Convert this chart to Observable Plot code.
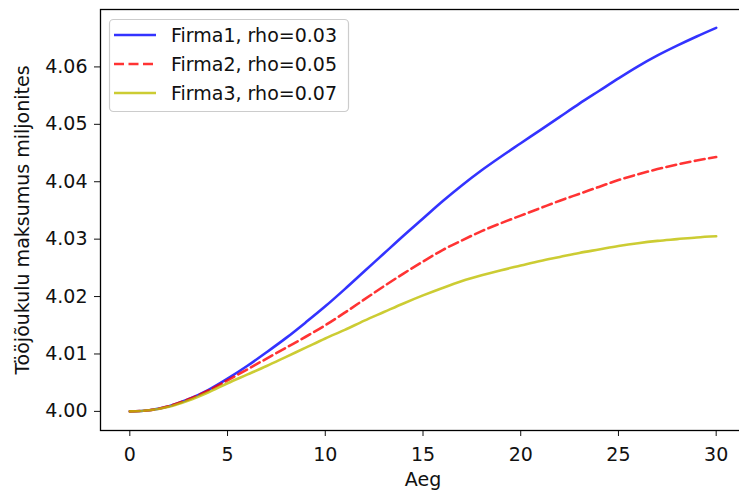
<!DOCTYPE html>
<html>
<head>
<meta charset="utf-8">
<script src="https://cdn.jsdelivr.net/npm/d3@7"></script>
<script src="https://cdn.jsdelivr.net/npm/@observablehq/plot@0.6"></script>
<style>
  html, body { margin: 0; padding: 0; background: #fff; }
  #wrap { position: relative; width: 739px; height: 495px; overflow: hidden; }
  #wrap svg { max-width: none !important; }
  #legend { position: absolute; left: 0; top: 0; }
</style>
</head>
<body>
<div id="wrap"></div>
<script>
// ---- data ----
const aeg = [0,1,2,3,4,5,6,7,8,9,10,11,12,13,14,15,16,17,18,19,20,21,22,23,24,25,26,27,28,29,30];
const firma1 = [4.0000,4.0002,4.0009,4.0021,4.0037,4.0057,4.0079,4.0103,4.0128,4.0155,4.0183,4.0213,4.0244,4.0275,4.0306,4.0336,4.0366,4.0394,4.0420,4.0444,4.0467,4.0490,4.0513,4.0536,4.0558,4.0580,4.0601,4.0620,4.0637,4.0653,4.0668];
const firma2 = [4.0000,4.0002,4.0009,4.0021,4.0036,4.0054,4.0073,4.0092,4.0111,4.0130,4.0150,4.0172,4.0195,4.0218,4.0240,4.0261,4.0281,4.0298,4.0314,4.0328,4.0341,4.0354,4.0367,4.0379,4.0391,4.0403,4.0413,4.0422,4.0430,4.0437,4.0443];
const firma3 = [4.0000,4.0002,4.0008,4.0019,4.0033,4.0049,4.0064,4.0079,4.0095,4.0111,4.0127,4.0142,4.0158,4.0173,4.0188,4.0202,4.0215,4.0227,4.0237,4.0246,4.0254,4.0262,4.0269,4.0276,4.0282,4.0288,4.0293,4.0297,4.0300,4.0303,4.0305];
const seriesNames = ["Firma1, rho=0.03", "Firma2, rho=0.05", "Firma3, rho=0.07"];
const seriesColors = ["#0000ff", "#ff0000", "#bfbf00"];
const seriesDash = [null, "10,4.5", null];
const xTicks = [0,5,10,15,20,25,30];
const yTicks = [4.00,4.01,4.02,4.03,4.04,4.05,4.06];
const xLabel = "Aeg";
const yLabel = "Tööjõukulu maksumus miljonites";

// ---- build table ----
const allSeries = [firma1, firma2, firma3];
const rows = [];
allSeries.forEach((vals, k) => {
  vals.forEach((v, i) => rows.push({series: seriesNames[k], t: aeg[i], v}));
});

const lineMarks = seriesNames.map((name, k) =>
  Plot.line(rows.filter(d => d.series === name), {
    x: "t", y: "v",
    stroke: seriesColors[k], strokeOpacity: 0.8, strokeWidth: 2.6,
    strokeDasharray: seriesDash[k] || undefined,
    curve: "monotone-x"
  })
);

const chart = Plot.plot({
  width: 746,
  height: 495,
  marginLeft: 100,
  marginRight: 1,
  marginTop: 9,
  marginBottom: 65,
  style: {fontFamily: "DejaVu Sans", fontSize: "19px", color: "#111", background: "#fff", overflow: "visible", maxWidth: "none"},
  x: {domain: [-1.5, 31.5], ticks: xTicks, tickSize: 6, tickPadding: 11, label: null},
  y: {domain: [3.99667, 4.07], ticks: yTicks, tickFormat: ".2f", tickSize: 6, tickPadding: 7, label: null},
  marks: [
    ...lineMarks,
    Plot.frame({stroke: "#000", strokeWidth: 1.3}),
    Plot.text([xLabel], {frameAnchor: "bottom", lineAnchor: "middle", textAnchor: "middle", dy: 49.5, fontSize: 19, fill: "#111"}),
    Plot.text([yLabel], {frameAnchor: "left", lineAnchor: "middle", textAnchor: "middle", rotate: -90, dx: -78, fontSize: 19, fill: "#111"})
  ]
});

const wrap = document.getElementById("wrap");
wrap.appendChild(chart);

// ---- legend overlay ----
const svg = d3.select(wrap).append("svg")
  .attr("id", "legend").attr("width", 739).attr("height", 495)
  .style("font-family", "DejaVu Sans").style("font-size", "19px");
svg.append("rect")
  .attr("x", 109.5).attr("y", 19.5).attr("width", 239).attr("height", 92)
  .attr("rx", 4).attr("fill", "#fff").attr("fill-opacity", 0.8)
  .attr("stroke", "#cccccc").attr("stroke-width", 1.2);
const rowY = [35, 64, 93];
seriesNames.forEach((name, k) => {
  svg.append("line")
    .attr("x1", 114).attr("x2", 156).attr("y1", rowY[k]).attr("y2", rowY[k])
    .attr("stroke", seriesColors[k]).attr("stroke-opacity", 0.8).attr("stroke-width", 2.6)
    .attr("stroke-dasharray", seriesDash[k]);
  svg.append("text")
    .attr("x", 171).attr("y", rowY[k]).attr("dy", "0.35em")
    .attr("fill", "#111").text(name);
});
</script>
</body>
</html>
